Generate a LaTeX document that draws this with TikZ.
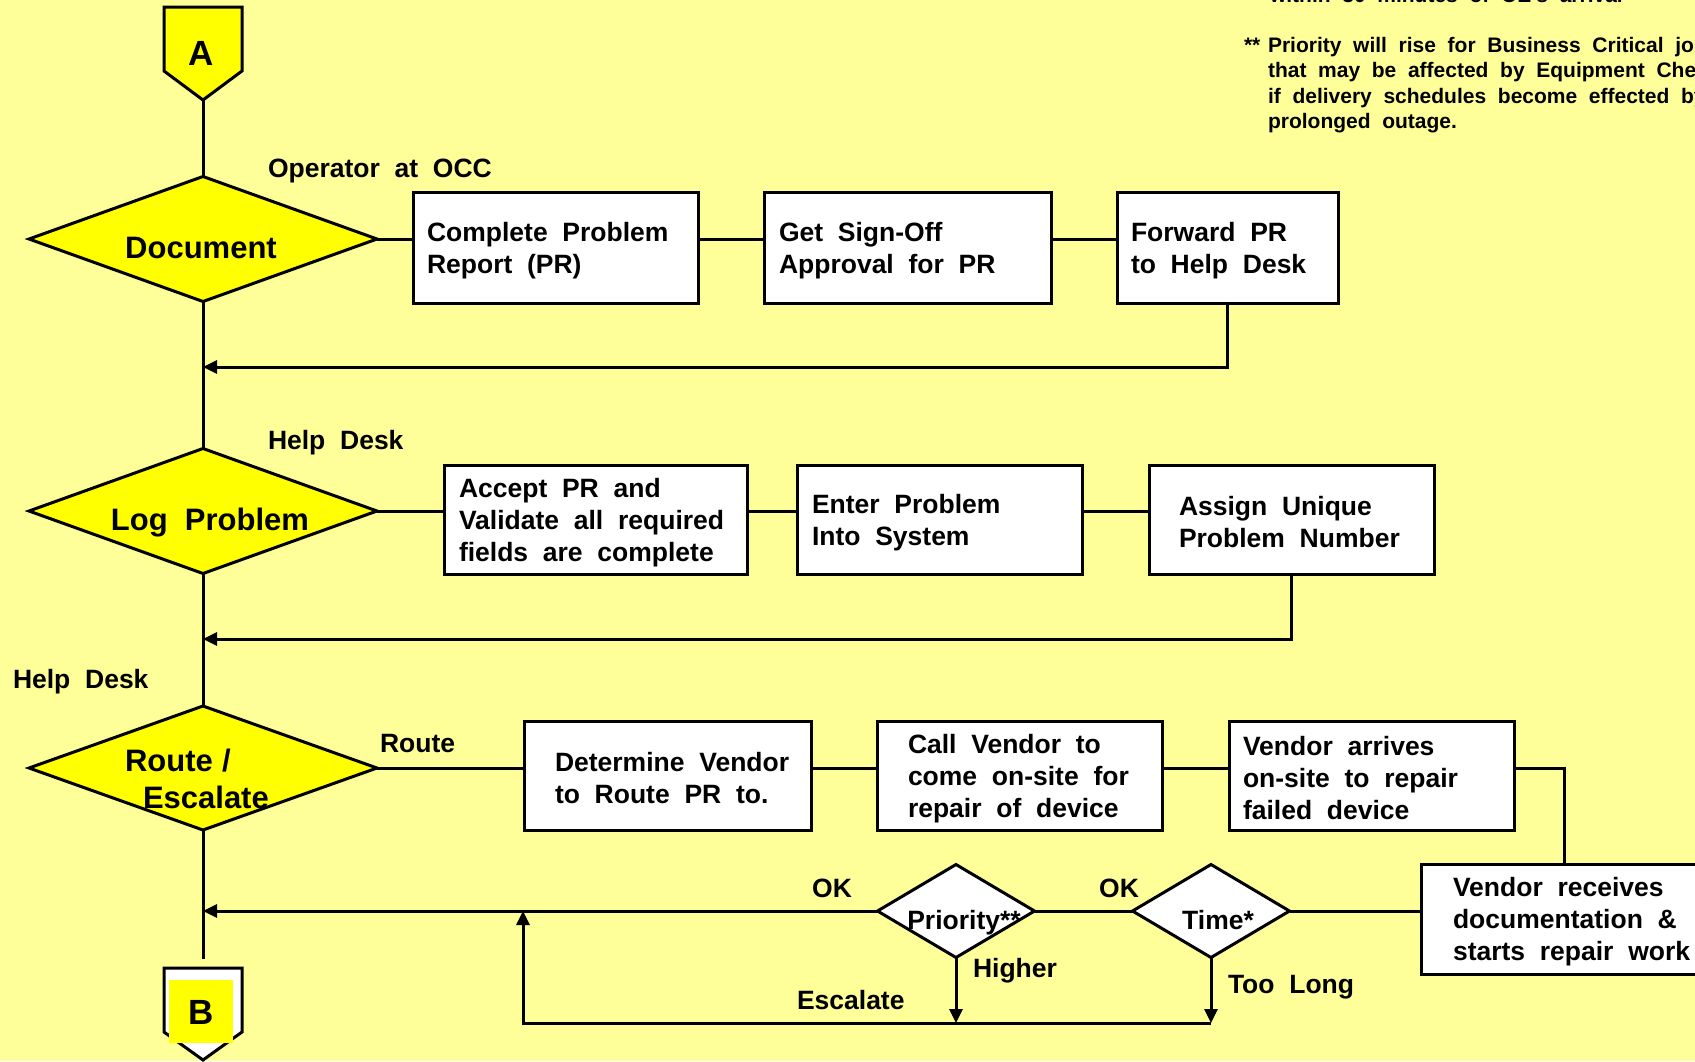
\documentclass[tikz,border=0pt]{standalone}
\usepackage{fontspec}
\setmainfont{Liberation Sans}[WordSpace=2]
\usetikzlibrary{shapes.geometric,arrows.meta,calc}
\definecolor{paper}{RGB}{255,255,153}
\definecolor{hilite}{RGB}{255,255,0}

\begin{document}
\begin{tikzpicture}[x=1pt,y=-1pt,line width=3pt,line join=miter,
  every node/.style={font=\bfseries\fontsize{26.5}{32}\selectfont,inner sep=0pt,outer sep=0pt},
  procbox/.style={draw,fill=white,anchor=north west},
  boxtext/.style={anchor=west,align=left,yshift=-3pt},
  decisionbox/.style={diamond,draw,fill=hilite,minimum width=348pt,minimum height=125pt},
  testbox/.style={diamond,draw,fill=white,minimum width=157pt,minimum height=93pt},
  bigtext/.style={font=\bfseries\fontsize{31}{37}\selectfont,anchor=base},
  tagtext/.style={anchor=base west},
  notetext/.style={anchor=base west,font=\bfseries\fontsize{21}{25}\selectfont},
  flow/.style={-{Triangle[length=14pt,width=13pt]}},
]
\useasboundingbox (0,0) rectangle (1695,1061);
\clip (0,0) rectangle (1695,1061);
\fill[paper] (0,0) rectangle (1695,1061);

% connector A
\draw[fill=hilite] (164,7) -- (242,7) -- (242,71) -- (203,100) -- (164,71) -- cycle;
\node[font=\bfseries\fontsize{35}{40}\selectfont] (A) at (201,53) {A};
\coordinate (Atip) at (203,100);

% connector B
\draw[fill=white] (164,968) -- (242,968) -- (242,1032) -- (203,1060) -- (164,1032) -- cycle;
\fill[hilite] (169,980) rectangle (233,1043);
\node[font=\bfseries\fontsize{35}{40}\selectfont] (B) at (201,1012) {B};
\coordinate (Bend) at (203,959);

% notes
\node[notetext] (nwithin) at (1270,2) {within 30 minutes of OE's arrival};
\node[notetext] (nstar) at (1244,52) {**};
\node[notetext] (n1) at (1268,52) {Priority will rise for Business Critical jobs};
\node[notetext] (n2) at (1268,77) {that may be affected by Equipment Checks};
\node[notetext] (n3) at (1268,103) {if delivery schedules become effected by};
\node[notetext] (n4) at (1268,128) {prolonged outage.};

% decision steps
\node[decisionbox] (doc) at (203,239) {};
\node[bigtext] (doctext) at (201,258) {Document};
\node[decisionbox] (log) at (203,511) {};
\node[bigtext] (logtext) at (210,530) {Log Problem};
\node[decisionbox,minimum height=124pt] (route) at (203,768) {};
\node[bigtext,anchor=base west] (routetext) at (125,771) {Route\hspace{0.3em}/};
\node[bigtext,anchor=base west] (esctext) at (143,808) {Escalate};

% row 1
\node[procbox,minimum width=285pt,minimum height=111pt] (b11) at (413,192) {};
\node[boxtext] (t11) at ([xshift=14pt]b11.west) {Complete Problem\\Report (PR)};
\node[procbox,minimum width=287pt,minimum height=111pt] (b12) at (764,192) {};
\node[boxtext] (t12) at ([xshift=15pt]b12.west) {Get Sign-Off\\Approval for PR};
\node[procbox,minimum width=221pt,minimum height=111pt] (b13) at (1117,192) {};
\node[boxtext] (t13) at ([xshift=14pt]b13.west) {Forward PR\\to Help Desk};

% row 2
\node[procbox,minimum width=303pt,minimum height=109pt] (b21) at (444,465) {};
\node[boxtext] (t21) at ([xshift=15pt]b21.west) {Accept PR and\\Validate all required\\fields are complete};
\node[procbox,minimum width=285pt,minimum height=109pt] (b22) at (797,465) {};
\node[boxtext] (t22) at ([xshift=15pt]b22.west) {Enter Problem\\Into System};
\node[procbox,minimum width=285pt,minimum height=109pt] (b23) at (1149,465) {};
\node[boxtext] (t23) at ([xshift=30pt]b23.west) {Assign Unique\\Problem Number};

% row 3
\node[procbox,minimum width=287pt,minimum height=109pt] (b31) at (524,721) {};
\node[boxtext] (t31) at ([xshift=31pt]b31.west) {Determine Vendor\\to Route PR to.};
\node[procbox,minimum width=285pt,minimum height=109pt] (b32) at (877,721) {};
\node[boxtext] (t32) at ([xshift=31pt]b32.west) {Call Vendor to\\come on-site for\\repair of device};
\node[procbox,minimum width=285pt,minimum height=109pt] (b33) at (1229,721) {};
\node[boxtext] (t33) at ([xshift=14pt]b33.west) {Vendor arrives\\on-site to repair\\failed device};
\node[procbox,minimum width=310pt,minimum height=110pt] (b4) at (1421,864) {};
\node[boxtext] (t4) at ([xshift=32pt]b4.west) {Vendor receives\\documentation \&\\starts repair work};

% checks
\node[testbox] (prio) at (956,911) {};
\node[anchor=base] (priotext) at (964,929) {Priority**};
\node[testbox] (time) at (1211,911) {};
\node[anchor=base] (timetext) at (1218,929) {Time*};

% labels
\node[tagtext] (lop) at (268,177) {Operator at OCC};
\node[tagtext] (lhd1) at (268,449) {Help Desk};
\node[tagtext] (lhd2) at (13,688) {Help Desk};
\node[tagtext] (lroute) at (380,752) {Route};
\node[anchor=base] (lok1) at (832,897) {OK};
\node[anchor=base] (lok2) at (1119,897) {OK};
\node[tagtext] (lhigh) at (973,977) {Higher};
\node[tagtext] (llong) at (1228,993) {Too Long};
\node[tagtext] (lesc) at (797,1009) {Escalate};

% joins on the main line
\coordinate (join1) at (203,367);
\coordinate (join2) at (203,639);
\coordinate (join3) at (203,911);
\coordinate (turn) at (1564,768);
\coordinate (escL) at (523,1023);

% main line
\draw (Atip) -- (doc.north);
\draw (doc.south) -- (log.north);
\draw (log.south) -- (route.north);
\draw (route.south) -- (Bend);

% row 1 links
\draw (doc.east) -- (doc.east -| b11.west);
\draw (doc.east -| b11.east) -- (doc.east -| b12.west);
\draw (doc.east -| b12.east) -- (doc.east -| b13.west);
\draw[flow] (b13.south) |- (join1);

% row 2 links
\draw (log.east) -- (log.east -| b21.west);
\draw (log.east -| b21.east) -- (log.east -| b22.west);
\draw (log.east -| b22.east) -- (log.east -| b23.west);
\draw[flow] (b23.south) |- (join2);

% row 3 links
\draw (route.east) -- (route.east -| b31.west);
\draw (route.east -| b31.east) -- (route.east -| b32.west);
\draw (route.east -| b32.east) -- (route.east -| b33.west);
\draw (b33.east |- turn) -- (turn) -- (turn |- b4.north);

% return path
\draw (b4.west |- time.east) -- (time.east);
\draw (time.west) -- (prio.east);
\draw[flow] (prio.west) -- (join3);
\draw[flow] (prio.south) -- (prio.south |- escL);
\draw[flow] (time.south) -- (time.south |- escL);
\draw[flow] (time.south |- escL) -- (escL) -- (escL |- join3);
\end{tikzpicture}
\end{document}
